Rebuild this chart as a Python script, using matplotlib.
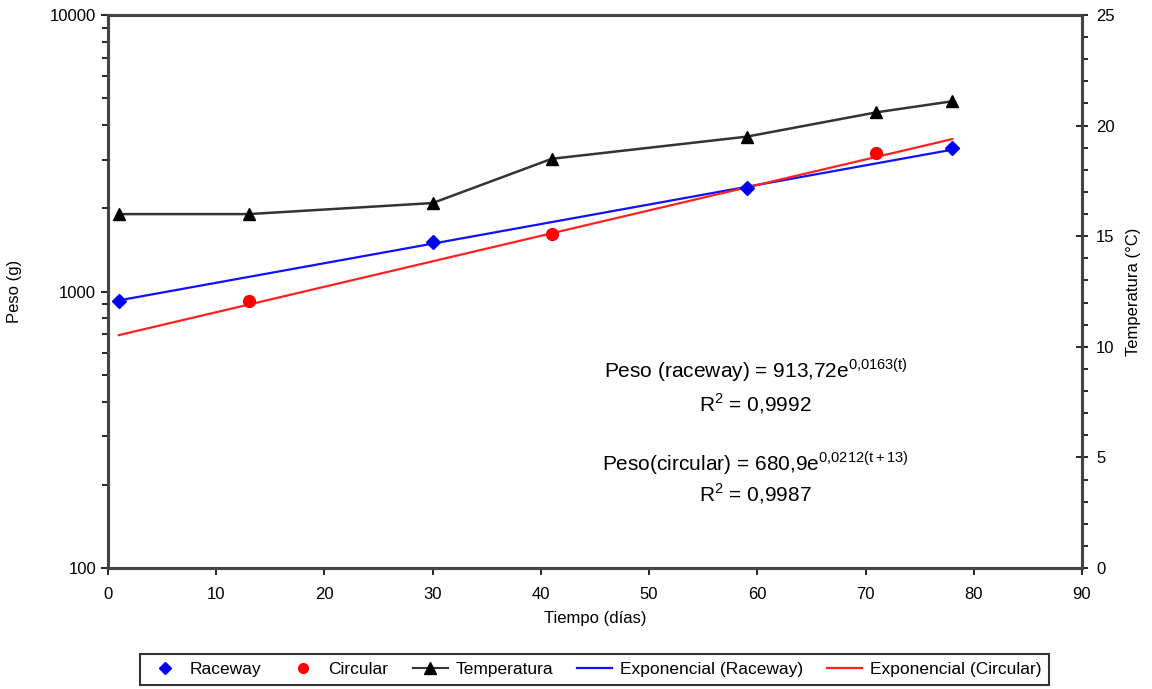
import numpy as np
import matplotlib
matplotlib.use("Agg")
import matplotlib.pyplot as plt
from matplotlib.ticker import LogLocator, NullFormatter, MultipleLocator
from matplotlib.lines import Line2D

plt.rcParams['font.family'] = ['Liberation Sans', 'DejaVu Sans']
plt.rcParams['mathtext.fontset'] = 'custom'
plt.rcParams['mathtext.rm'] = 'Liberation Sans'

# ---- data ----
raceway_t = [1, 30, 59, 78]
raceway_peso = [924, 1510, 2367, 3304]

circular_t = [13, 41, 71]
circular_peso = [924, 1614, 3170]

temp_t = [1, 13, 30, 41, 59, 71, 78]
temp_c = [16.0, 16.0, 16.5, 18.5, 19.5, 20.6, 21.1]

# exponential trend lines (a * exp(b * t)), drawn over t = 1..78
trend_raceway = (913.72, 0.0163)
trend_circular = (680.9, 0.0212)
trend_range = (1, 78)

fig = plt.figure(figsize=(11.52, 6.89), dpi=100)
ax = fig.add_axes([0.09375, 0.1756, 0.8455, 0.8026])
ax2 = ax.twinx()

# trend lines
tt = np.linspace(trend_range[0], trend_range[1], 100)
ax.plot(tt, trend_raceway[0] * np.exp(trend_raceway[1] * tt), color='#1010ff', lw=1.6, zorder=2)
ax.plot(tt, trend_circular[0] * np.exp(trend_circular[1] * tt), color='#ff2020', lw=1.6, zorder=2)

# data points
ax.plot(raceway_t, raceway_peso, ls='none', marker='D', ms=7, color='#0000ee', zorder=3)
ax.plot(circular_t, circular_peso, ls='none', marker='o', ms=8.5, color='#ff0000', zorder=3)

# temperature on right axis
ax2.plot(temp_t, temp_c, color='#333333', lw=1.8, marker='^', ms=9, mfc='black', mec='black')

ax.set_xlim(0, 90)
ax.set_yscale('log')
ax.set_ylim(100, 10000)
ax2.set_ylim(0, 25)

ax.xaxis.set_major_locator(MultipleLocator(10))
ax.yaxis.set_minor_locator(LogLocator(base=10, subs=np.arange(2, 10), numticks=20))
ax.yaxis.set_minor_formatter(NullFormatter())
ax.set_yticks([100, 1000, 10000])
ax.set_yticklabels(['100', '1000', '10000'])

ax2.yaxis.set_major_locator(MultipleLocator(5))
ax2.yaxis.set_minor_locator(MultipleLocator(1))

for a in (ax, ax2):
    for s in a.spines.values():
        s.set_linewidth(2.2)
        s.set_color('#444444')

ax.tick_params(axis='x', which='major', direction='out', length=5, width=1.2, labelsize=12, pad=9)
ax.tick_params(axis='y', which='major', direction='out', length=5, width=1.2, labelsize=12)
ax.tick_params(axis='y', which='minor', direction='out', length=4, width=1.2)
ax2.tick_params(axis='y', which='major', direction='inout', length=8, width=1.2, labelsize=12, pad=6)
ax2.tick_params(axis='y', which='minor', direction='out', length=4, width=1.2)

ax.set_xlabel('Tiempo (días)', fontsize=12, labelpad=6)
ax.set_ylabel('Peso (g)', fontsize=12, labelpad=20)
ax2.set_ylabel('Temperatura (°C)', fontsize=12, rotation=90, labelpad=8)

# equations
eq_size = 15
ax.text(0.665, 0.358, r'Peso (raceway) = 913,72e$^{\mathrm{0{,}0163(t)}}$', transform=ax.transAxes,
        ha='center', va='center', fontsize=eq_size)
ax.text(0.665, 0.297, r'R$^{\mathrm{2}}$ = 0,9992', transform=ax.transAxes,
        ha='center', va='center', fontsize=eq_size)
ax.text(0.665, 0.19, r'Peso(circular) = 680,9e$^{\mathrm{0{,}0212(t+13)}}$', transform=ax.transAxes,
        ha='center', va='center', fontsize=eq_size)
ax.text(0.665, 0.135, r'R$^{\mathrm{2}}$ = 0,9987', transform=ax.transAxes,
        ha='center', va='center', fontsize=eq_size)

# legend
handles = [
    Line2D([], [], ls='none', marker='D', ms=6, color='#0000ee'),
    Line2D([], [], ls='none', marker='o', ms=7, color='#ff0000'),
    Line2D([], [], color='#333333', lw=1.5, marker='^', ms=8, mfc='black', mec='black'),
    Line2D([], [], color='#1010ff', lw=1.6),
    Line2D([], [], color='#ff2020', lw=1.6),
]
labels = ['Raceway', 'Circular', 'Temperatura', 'Exponencial (Raceway)', 'Exponencial (Circular)']
leg = fig.legend(handles, labels, loc='center', bbox_to_anchor=(0.516, 0.028), ncol=5,
                 fontsize=12.5, frameon=True, fancybox=False, edgecolor='black',
                 handlelength=2.0, columnspacing=1.4, handletextpad=0.45, borderpad=0.45)
leg.get_frame().set_linewidth(1.5)

fig.savefig('out.png', dpi=100)
